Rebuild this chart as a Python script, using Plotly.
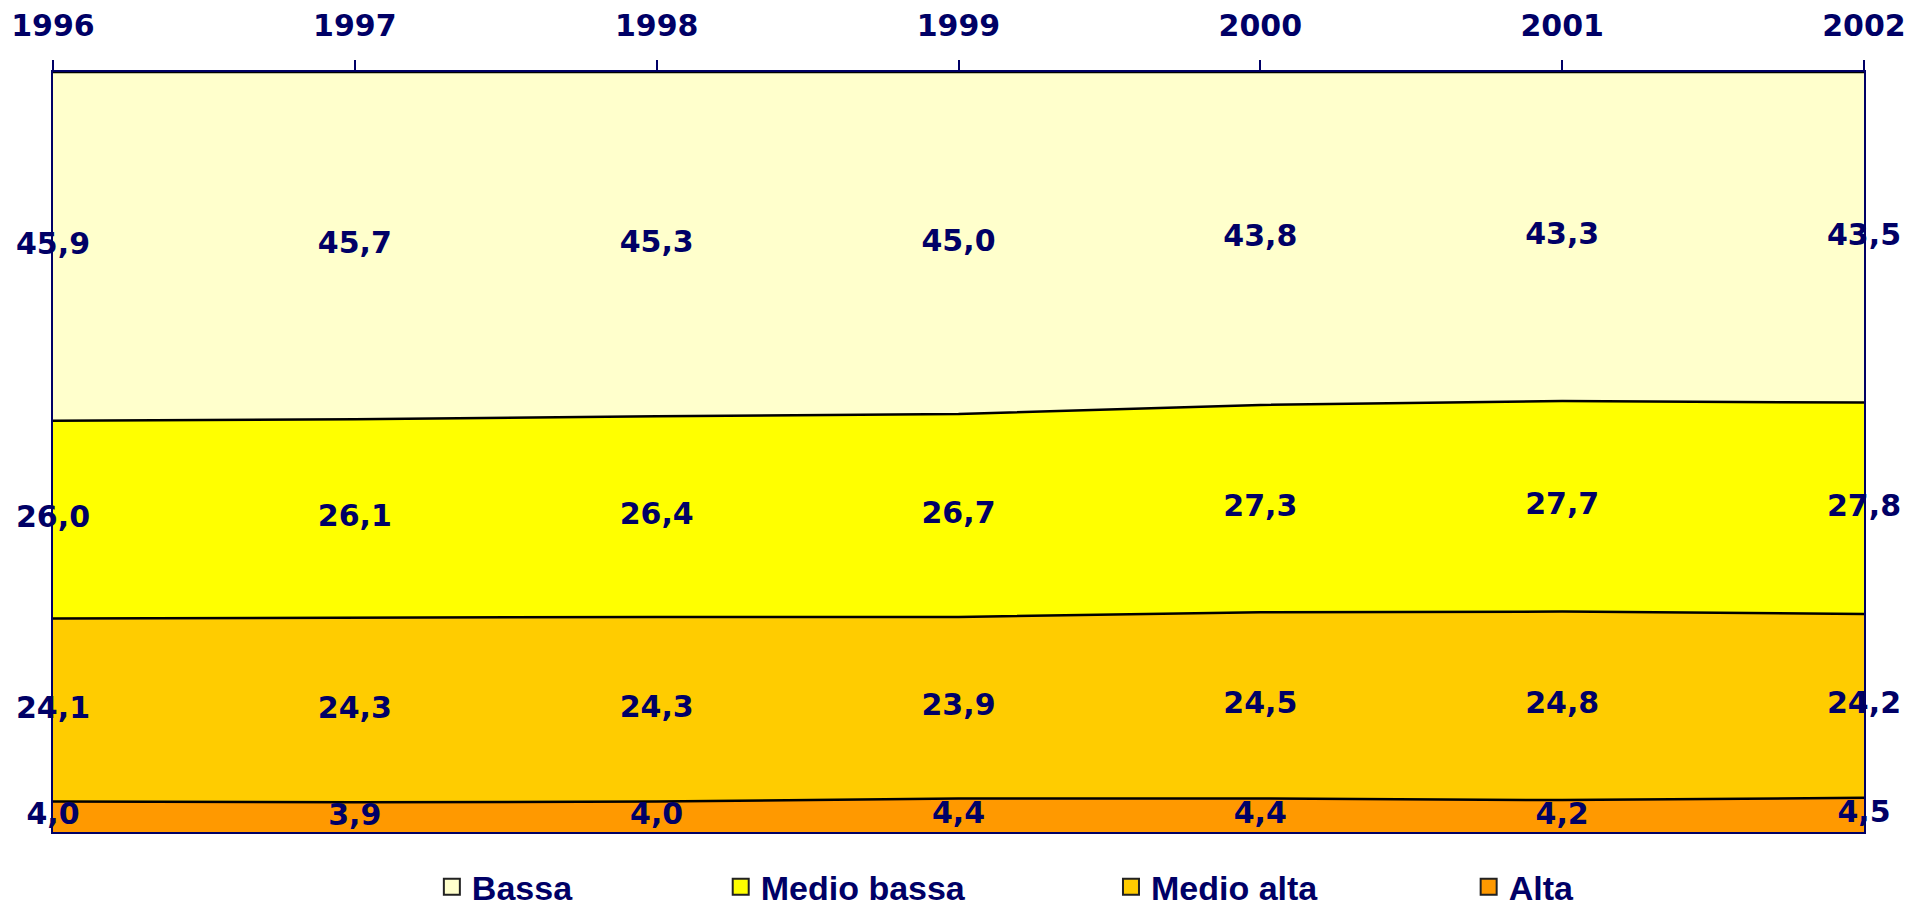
import plotly.graph_objects as go

years = [1996, 1997, 1998, 1999, 2000, 2001, 2002]
series_names = ["Bassa", "Medio bassa", "Medio alta", "Alta"]
bassa = [45.9, 45.7, 45.3, 45.0, 43.8, 43.3, 43.5]
medio_bassa = [26.0, 26.1, 26.4, 26.7, 27.3, 27.7, 27.8]
medio_alta = [24.1, 24.3, 24.3, 23.9, 24.5, 24.8, 24.2]
alta = [4.0, 3.9, 4.0, 4.4, 4.4, 4.2, 4.5]
colors = ["#FFFFCC", "#FFFF00", "#FFCC00", "#FF9900"]

NAVY = "#000066"
LABEL_FONT = dict(family="DejaVu Sans", size=30, color=NAVY)

# stacking order: bottom to top
stack = [("Alta", alta, colors[3]), ("Medio alta", medio_alta, colors[2]),
         ("Medio bassa", medio_bassa, colors[1]), ("Bassa", bassa, colors[0])]

fig = go.Figure()
base = [0.0] * len(years)
mids = []
for name, vals, col in stack:
    fig.add_trace(go.Scatter(
        x=years, y=vals, name=name, stackgroup="one", mode="lines",
        line=dict(color="black", width=2.5), fillcolor=col, showlegend=False,
        hoverinfo="skip"))
    mids.append([b + v / 2 for b, v in zip(base, vals)])
    base = [b + v for b, v in zip(base, vals)]

for (name, vals, col), mid in zip(stack, mids):
    fig.add_trace(go.Scatter(
        x=years, y=mid, mode="text",
        text=["<b>" + f"{v:.1f}".replace(".", ",") + "</b>" for v in vals],
        textposition="middle center", textfont=LABEL_FONT,
        showlegend=False, hoverinfo="skip", cliponaxis=False))

legend_x = [0.2092, 0.3687, 0.5842, 0.7817]
for i, (name, col) in enumerate(zip(series_names, colors)):
    lname = "legend" if i == 0 else f"legend{i+1}"
    fig.add_trace(go.Scatter(
        x=[None], y=[None], mode="markers", name=name, legend=lname,
        marker=dict(symbol="square", size=16, color=col,
                    line=dict(color="#222222", width=2))))

legend_common = dict(orientation="h", xanchor="left", yanchor="middle", y=-0.0725,
                     bgcolor="rgba(0,0,0,0)", itemwidth=30,
                     font=dict(family="Liberation Sans", size=34, color=NAVY, weight="bold"))
layout_legends = {}
for i, lx in enumerate(legend_x):
    lname = "legend" if i == 0 else f"legend{i+1}"
    layout_legends[lname] = dict(legend_common, x=lx)

fig.update_layout(
    **layout_legends,
    width=1924, height=907,
    plot_bgcolor="white", paper_bgcolor="white",
    margin=dict(l=53, r=60, t=72, b=75, autoexpand=False),
    xaxis=dict(side="top", range=[1996, 2002], tickvals=years,
               ticktext=[f"<b>{y}</b>" for y in years],
               ticks="outside", ticklen=10, tickwidth=2, tickcolor=NAVY,
               showline=True, linecolor=NAVY, linewidth=2, mirror=True,
               showgrid=False, zeroline=False, tickfont=LABEL_FONT,
               ticklabelstandoff=12, automargin=False),
    yaxis=dict(range=[0, 100], showticklabels=False, showgrid=False,
               zeroline=False, showline=True, linecolor=NAVY, linewidth=2,
               mirror=True, ticks="", automargin=False),
)

fig.write_html(
    "out.html",
    config={"displayModeBar": False},
    post_script="document.body.style.margin='0';document.body.style.overflow='hidden';",
)
